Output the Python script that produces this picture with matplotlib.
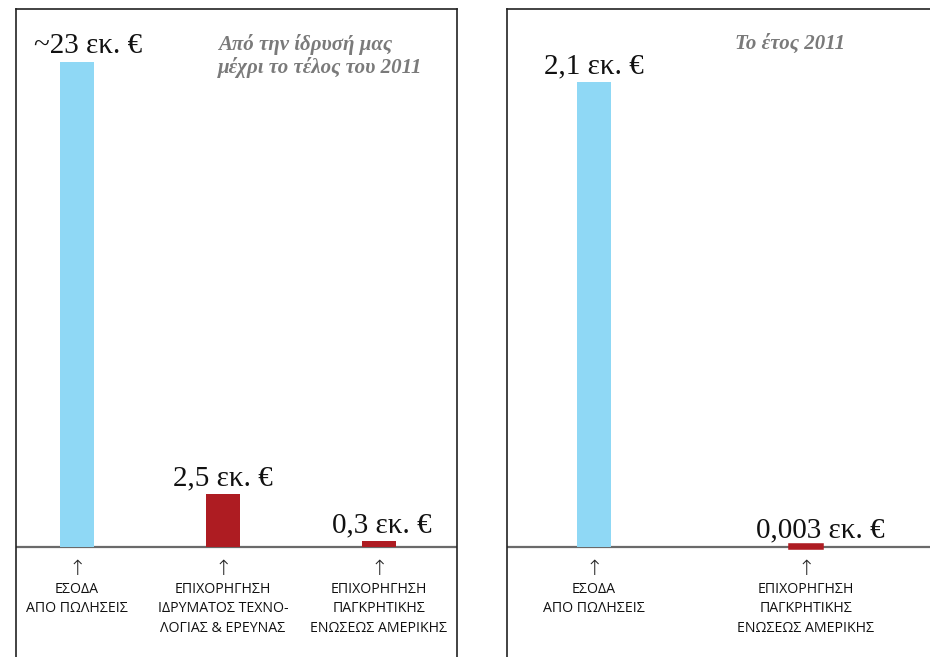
import matplotlib
matplotlib.use("Agg")
import matplotlib.pyplot as plt

# ---- data ----
left_categories = ["ΕΣΟΔΑ\nΑΠΟ ΠΩΛΗΣΕΙΣ",
                   "ΕΠΙΧΟΡΗΓΗΣΗ\nΙΔΡΥΜΑΤΟΣ ΤΕΧΝΟ-\nΛΟΓΙΑΣ & ΕΡΕΥΝΑΣ",
                   "ΕΠΙΧΟΡΗΓΗΣΗ\nΠΑΓΚΡΗΤΙΚΗΣ\nΕΝΩΣΕΩΣ ΑΜΕΡΙΚΗΣ"]
left_values = [23, 2.5, 0.3]
left_labels = ["~23 εκ. €", "2,5 εκ. €", "0,3 εκ. €"]
left_title = "Από την ίδρυσή μας\nμέχρι το τέλος του 2011"

right_categories = ["ΕΣΟΔΑ\nΑΠΟ ΠΩΛΗΣΕΙΣ",
                    "ΕΠΙΧΟΡΗΓΗΣΗ\nΠΑΓΚΡΗΤΙΚΗΣ\nΕΝΩΣΕΩΣ ΑΜΕΡΙΚΗΣ"]
right_values = [2.1, 0.003]
right_labels = ["2,1 εκ. €", "0,003 εκ. €"]
right_title = "Το έτος 2011"

BLUE = "#8fd8f5"
RED = "#ae1c22"

W, H = 930, 657
fig = plt.figure(figsize=(W / 100, H / 100), dpi=100)

def px_axes(x0, x1, ytop):
    return fig.add_axes([x0 / W, 0, (x1 - x0) / W, (H - ytop) / H])

base_px = H - 547  # baseline height from bottom in px
ax_h_px = H - 9

def setup(ax, vmax_val, vmax_px, xunit_px, x0_center_px, width_px):
    per_px = vmax_val / vmax_px
    ax.set_ylim(-base_px * per_px, (ax_h_px - base_px) * per_px)
    ax.set_xlim(-x0_center_px / xunit_px, (width_px - x0_center_px) / xunit_px)
    ax.set_xticks([]); ax.set_yticks([])
    ax.spines["bottom"].set_visible(False)
    for s in ["left", "right", "top"]:
        ax.spines[s].set_color("#222222")
        ax.spines[s].set_linewidth(1.2)
    ax.axhline(0, color="#6a6a6a", lw=1.6, zorder=1)
    return per_px

serif = ["Liberation Serif", "DejaVu Serif"]
sans = ["Open Sans", "DejaVu Sans"]

def draw(ax, pos, values, labels, cats, colors, bw, label_dx):
    bars = ax.bar(pos, values, width=bw, color=colors, zorder=2)
    for i, (p, v, lab, cat) in enumerate(zip(pos, values, labels, cats)):
        ax.annotate(lab, (p, v), xytext=(label_dx[i], 2), textcoords="offset points",
                    ha="center", va="bottom", fontsize=21, family=serif, color="#111111")
        ax.annotate("↑", (p, 0), xytext=(0, -8.5), textcoords="offset points",
                    ha="center", va="top", fontsize=15, family=["DejaVu Sans"],
                    color="#222222", weight="light")
        ax.annotate(cat, (p, 0), xytext=(0, -25), textcoords="offset points",
                    ha="center", va="top", fontsize=10.2, family=sans, color="#111111",
                    linespacing=1.4)
    return bars

# left panel
axL = px_axes(16, 457, 9)
setup(axL, left_values[0], 485, 151, 77 - 16, 441)
posL = [0, 0.967, 2]
draw(axL, posL, left_values, left_labels, left_categories, [BLUE, RED, RED],
     34 / 151, [8, 0, 2])
axL.text((218 - 16) / 441, 1 - (34 - 9) / 648, left_title, transform=axL.transAxes,
         ha="left", va="top", fontsize=15, family=serif, style="italic", weight="bold",
         color="#7a7a7a", linespacing=1.15)

# right panel
axR = px_axes(507, 960, 9)
setup(axR, right_values[0], 465, 212, 594 - 507, 453)
posR = [0, 1]
bars = draw(axR, posR, right_values, right_labels, right_categories, [BLUE, RED],
            34 / 212, [0, 10])
# tiny bar: give it a visible outline so it is not lost
bars[1].set_edgecolor(RED)
bars[1].set_linewidth(4)
bars[1].set_width(30 / 212)
bars[1].set_x(1 - 15 / 212)
axR.text((735 - 507) / 453, 1 - (34 - 9) / 648, right_title, transform=axR.transAxes,
         ha="left", va="top", fontsize=15, family=serif, style="italic", weight="bold",
         color="#7a7a7a")

fig.savefig("out.png", dpi=100)
